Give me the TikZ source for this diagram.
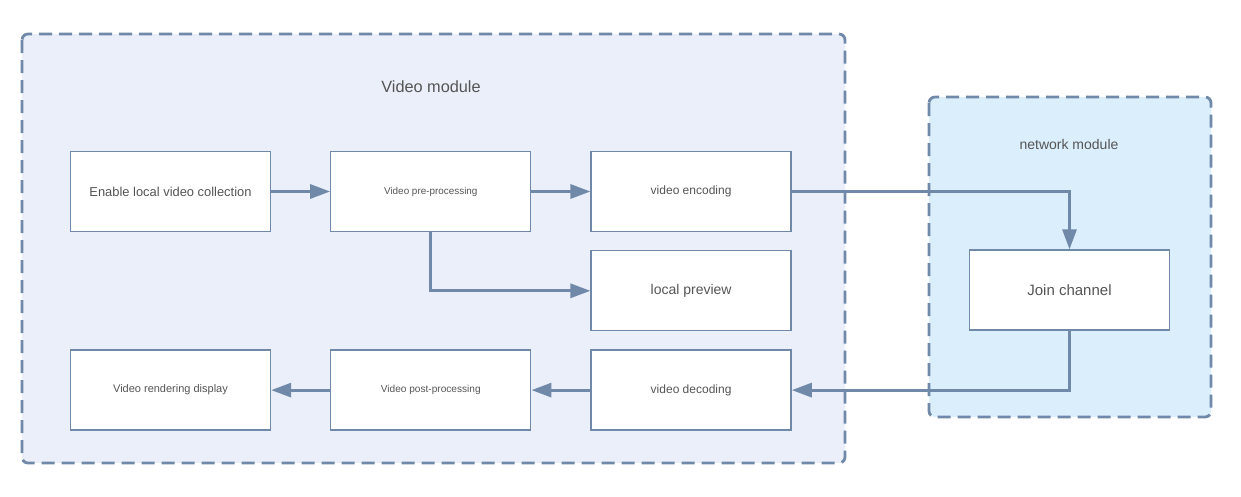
\documentclass[tikz,border=0pt]{standalone}
\usepackage{fontspec}
\setmainfont{Liberation Sans}
\usetikzlibrary{arrows.meta, positioning}
\definecolor{edgeblue}{RGB}{113, 137, 168}
\definecolor{modulefill}{RGB}{235, 239, 249}
\definecolor{netfill}{RGB}{218, 238, 252}
\definecolor{textgray}{RGB}{85, 85, 85}

\begin{document}
\begin{tikzpicture}[
    x=1pt, y=-1pt,
    node distance=18pt and 59pt,
    module/.style={draw=edgeblue, line width=2.8pt, dash pattern=on 13pt off 7pt,
                   rounded corners=6pt},
    box/.style={rectangle, draw=edgeblue, line width=1.3pt, fill=white,
                minimum width=200pt, minimum height=80pt, inner sep=0pt,
                text=textgray, align=center},
    arrow/.style={-{Triangle[length=20pt, width=14pt]}, line width=3pt, edgeblue},
    title/.style={text=textgray}
]
\useasboundingbox (0,0) rectangle (1241,496);
% modules
\draw[module, fill=modulefill] (22,34) rectangle (845,463);
\draw[module, fill=netfill] (929,97) rectangle (1211,417);
\node[title, font=\fontsize{16.3}{19}\selectfont] (videotitle) at (431,87) {Video module};
\node[title, font=\fontsize{14}{17}\selectfont] (nettitle) at (1069,144) {network module};
% boxes
\node[box, font=\fontsize{12.9}{15}\selectfont] (collect) at (170.5,191.5) {Enable local video collection};
\node[box, right=of collect, font=\fontsize{9.9}{12}\selectfont] (preproc) {Video pre-processing};
\node[box, right=of preproc, font=\fontsize{12}{14}\selectfont] (encode) {video encoding};
\node[box, below=of encode, font=\fontsize{14}{17}\selectfont] (preview) {local preview};
\node[box, below=of preview, font=\fontsize{12}{14}\selectfont] (decode) {video decoding};
\node[box, left=of decode, font=\fontsize{10.1}{12}\selectfont] (postproc) {Video post-processing};
\node[box, left=of postproc, font=\fontsize{11}{13}\selectfont] (render) {Video rendering display};
\node[box, font=\fontsize{15}{18}\selectfont] (join) at (1069.5,290) {Join channel};
% connectors
\draw[arrow] (collect) -- (preproc);
\draw[arrow] (preproc) -- (encode);
\draw[arrow] (encode.east) -| (join.north);
\draw[arrow] (preproc.south) |- (preview.west);
\draw[arrow] (join.south) |- (decode.east);
\draw[arrow] (decode) -- (postproc);
\draw[arrow] (postproc) -- (render);
\end{tikzpicture}
\end{document}
